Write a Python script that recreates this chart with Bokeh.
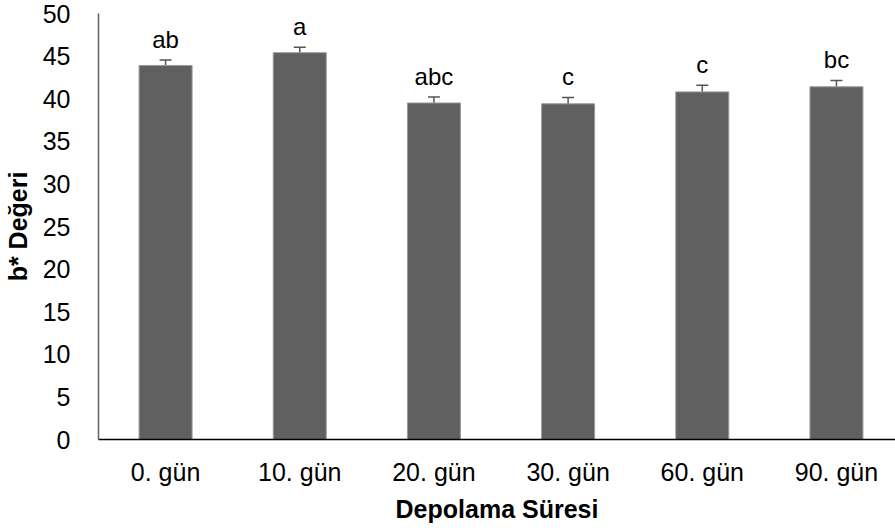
from bokeh.plotting import figure
from bokeh.models import Range1d, ColumnDataSource, Whisker, TeeHead, FixedTicker
from bokeh.core.properties import value
from bokeh.embed import file_html
from bokeh.resources import INLINE

categories = ["0. gün", "10. gün", "20. gün", "30. gün", "60. gün", "90. gün"]
b_values = [43.9, 45.4, 39.5, 39.4, 40.8, 41.4]
errors = [0.65, 0.65, 0.7, 0.75, 0.77, 0.75]
letters = ["ab", "a", "abc", "c", "c", "bc"]
y_ticks = [0, 5, 10, 15, 20, 25, 30, 35, 40, 45, 50]

xs = list(range(len(categories)))
src = ColumnDataSource(dict(
    x=xs, top=b_values,
    upper=[v + e for v, e in zip(b_values, errors)],
    lower=[v - e for v, e in zip(b_values, errors)],
    lab=letters,
))

FONT = "Liberation Sans"
p = figure(width=895, height=528, output_backend="svg", toolbar_location=None,
           x_range=Range1d(-0.5, 5.44), y_range=Range1d(0, 50),
           min_border_left=97, min_border_right=0, min_border_top=13, min_border_bottom=89)
p.outline_line_color = None
p.grid.grid_line_color = None
p.background_fill_color = "white"
p.border_fill_color = "white"

p.vbar(x="x", top="top", width=0.395, source=src, fill_color="#606060",
       line_color="#9a9a9a", line_width=1)
w = Whisker(base="x", upper="upper", lower="lower", source=src,
            line_color="#555555", line_width=1.5,
            upper_head=TeeHead(size=12, line_color="#555555", line_width=1.5),
            lower_head=TeeHead(size=12, line_color="#555555", line_width=1.5))
p.add_layout(w)

p.text(x="x", y="upper", text="lab", source=src, text_align="center",
       text_baseline="bottom", y_offset=-7, text_font=value(FONT),
       text_font_size="24px", text_color="black")

p.xaxis.ticker = FixedTicker(ticks=xs)
p.xaxis.major_label_overrides = {i: c for i, c in enumerate(categories)}
p.yaxis.ticker = FixedTicker(ticks=y_ticks)
for ax in (p.xaxis[0], p.yaxis[0]):
    ax.major_tick_line_color = None
    ax.minor_tick_line_color = None
    ax.major_label_text_font = FONT
    ax.major_label_text_font_size = "25px"
    ax.major_label_text_color = "black"
    ax.axis_label_text_font = FONT
    ax.axis_label_text_font_size = "25px"
    ax.axis_label_text_font_style = "bold"
    ax.axis_label_text_color = "black"
p.xaxis.axis_line_color = "black"
p.xaxis.axis_line_width = 1.5
p.yaxis.axis_line_color = "#606060"
p.yaxis.axis_line_width = 1.5
p.xaxis.major_label_standoff = 12
p.yaxis.major_label_standoff = 22
p.xaxis.axis_label = "Depolama Süresi"
p.yaxis.axis_label = "b* Değeri"
p.xaxis.axis_label_standoff = 6
p.yaxis.axis_label_standoff = 8

open("out.html", "w").write(file_html(p, INLINE))
